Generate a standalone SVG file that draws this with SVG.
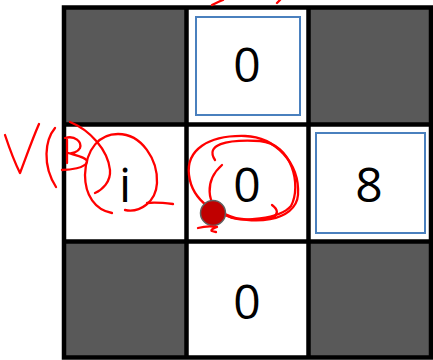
<svg xmlns="http://www.w3.org/2000/svg" width="433" height="360" viewBox="0 0 433 360">
<style>
.dark{fill:#595959}
.box{fill:none;stroke:#4a80be;stroke-width:2}
.grid{fill:none;stroke:#000;stroke-width:4.5}
.t{font-family:"Open Sans","Liberation Sans",Arial,sans-serif;font-size:48px;fill:#000;text-anchor:middle}
.ink{fill:none;stroke:#ff0000;stroke-width:2.3;stroke-linecap:round;stroke-linejoin:round}
</style>
<rect width="433" height="360" fill="#fff"/>
<g id="cell-tl"><rect class="dark" x="64" y="7.5" width="122.5" height="117"/></g>
<g id="cell-tc"><rect class="box" x="196" y="17" width="104" height="98"/><text class="t" x="247" y="82">0</text></g>
<g id="cell-tr"><rect class="dark" x="308.5" y="7.5" width="122.5" height="117"/></g>
<g id="cell-ml"><text class="t" x="125" y="202">i</text></g>
<g id="cell-mc"><text class="t" x="247" y="202">0</text></g>
<g id="cell-mr"><rect class="box" x="316" y="133" width="109" height="100"/><text class="t" x="369" y="202">8</text></g>
<g id="cell-bl"><rect class="dark" x="64" y="241.5" width="122.5" height="116"/></g>
<g id="cell-bc"><text class="t" x="247" y="319">0</text></g>
<g id="cell-br"><rect class="dark" x="308.5" y="241.5" width="122.5" height="116"/></g>
<g id="grid">
<rect class="grid" x="64" y="7.5" width="367" height="350"/>
<line class="grid" x1="186.5" y1="7.5" x2="186.5" y2="357.5"/>
<line class="grid" x1="308.5" y1="7.5" x2="308.5" y2="357.5"/>
<line class="grid" x1="64" y1="124.5" x2="431" y2="124.5"/>
<line class="grid" x1="64" y1="241.5" x2="431" y2="241.5"/>
</g>
<g id="annotations">
<path class="ink" d="M212,5 C216,3 220,1 223,0"/>
<path class="ink" d="M277,3 L280,0"/>
<path class="ink" d="M5,135 C10,150 16,165 20,173 C25,160 32,140 39,124"/>
<path class="ink" d="M55,128 C45,140 42,165 56,187"/>
<path class="ink" d="M67,140 L67,163"/>
<path class="ink" d="M65,138 C75,135 82,142 80,148 C78,152 72,154 68,153 C78,156 88,158 87,162 C85,168 70,170 62,170"/>
<path class="ink" d="M70,122 C90,130 108,150 110,170 C111,182 102,190 95,193"/>
<path class="ink" d="M112,213 C95,210 85,195 85,175 C86,148 100,134 118,134 C142,134 158,160 157,183 C156,202 140,213 125,210"/>
<path class="ink" d="M147,203 C155,202 165,203 173,204"/>
<path class="ink" d="M222,165 C205,180 205,205 225,214 C250,226 296,222 298,195 C300,163 275,137 245,136 C208,135 186,150 189,175 C192,200 215,218 250,220 C270,221 285,215 272,205"/>
<path class="ink" d="M215,160 C205,145 225,139 260,141 C292,144 302,185 291,206 C280,219 240,223 228,216"/>
<circle cx="213" cy="213" r="12.5" fill="#c00000" stroke="#606060" stroke-width="1.5"/>
<path class="ink" d="M198,228 C205,226 212,226 217,227 C212,229 208,231 216,232"/>
</g>
</svg>
